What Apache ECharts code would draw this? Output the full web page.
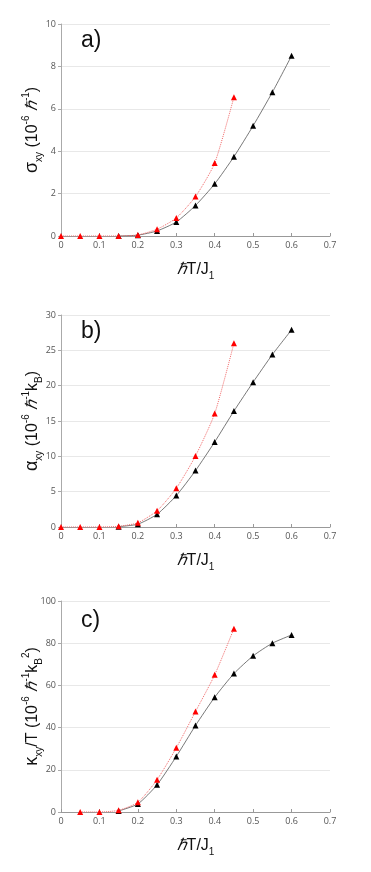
<!DOCTYPE html>
<html><head><meta charset="utf-8">
<script src="https://cdn.jsdelivr.net/npm/echarts@6/dist/echarts.min.js"></script>
<style>html,body{margin:0;padding:0;background:#fff;}#c{width:371px;height:872px;}</style>
</head><body><div id="c"></div>
<script>
const xTicks = [0, 0.1, 0.2, 0.3, 0.4, 0.5, 0.6, 0.7];
const tempsRed = [0, 0.05, 0.1, 0.15, 0.2, 0.25, 0.3, 0.35, 0.4, 0.45];
const tempsRedC = [0.05, 0.1, 0.15, 0.2, 0.25, 0.3, 0.35, 0.4, 0.45];
const tempsBlack = [0.15, 0.2, 0.25, 0.3, 0.35, 0.4, 0.45, 0.5, 0.55, 0.6];

const sigmaRed   = [0, 0, 0, 0, 0.05, 0.32, 0.85, 1.86, 3.44, 6.55];
const sigmaBlack = [0, 0.04, 0.24, 0.66, 1.44, 2.46, 3.74, 5.2, 6.78, 8.5];
const alphaRed   = [0, 0, 0, 0.1, 0.6, 2.3, 5.48, 10.06, 16.06, 26.0];
const alphaBlack = [0.05, 0.4, 1.8, 4.44, 7.98, 12.04, 16.4, 20.5, 24.4, 27.9];
const kappaRed   = [0, 0, 0.8, 4.6, 15.3, 30.4, 47.6, 65.0, 86.9];
const kappaBlack = [0.5, 3.8, 12.9, 26.3, 41.0, 54.4, 65.6, 74.0, 80.0, 83.9];

const yMax = [10, 30, 100];
const yStep = [2, 5, 20];
const panelLabels = ['a)', 'b)', 'c)'];

const pairs = (xs, ys) => xs.map((x, i) => [x, ys[i]]);

const tf = "'Liberation Sans', Arial, sans-serif";
const rich = {
  m: {fontSize: 16, fontFamily: tf, color: '#111', lineHeight: 22, verticalAlign: 'bottom'},
  g: {fontSize: 18, fontFamily: tf, color: '#111', lineHeight: 22, verticalAlign: 'bottom'},
  h: {fontSize: 16, fontFamily: tf, fontStyle: 'italic', color: '#111', lineHeight: 22, verticalAlign: 'bottom'},
  sub: {fontSize: 10, fontFamily: tf, color: '#111', lineHeight: 22, verticalAlign: 'bottom', padding: [0,0,-3,0]},
  sup: {fontSize: 10, fontFamily: tf, color: '#111', lineHeight: 22, verticalAlign: 'top', padding: [2,0,0,0]}
};
const yNames = [
  '{g|σ}{sub|xy}{m| (10}{sup|-6}{h| ℏ}{sup|-1}{m|)}',
  '{g|α}{sub|xy}{m| (10}{sup|-6}{h| ℏ}{sup|-1}{m|k}{sub|B}{m|)}',
  '{g|κ}{sub|xy}{m|/T (10}{sup|-6}{h| ℏ}{sup|-1}{m|k}{sub|B}{sup|2}{m|)}'
];
const xName = '{h|ℏ}{m|T/J}{sub|1}';

const tops = [24, 315, 601];
const heights = [212, 212, 211];

const grids = [], xAxes = [], yAxes = [], series = [], graphics = [];
for (let i = 0; i < 3; i++) {
  grids.push({left: 61, width: 269, top: tops[i], height: heights[i]});
  xAxes.push({
    type: 'value', gridIndex: i, min: 0, max: 0.7, interval: 0.1,
    name: xName, nameLocation: 'middle', nameGap: 20, nameMoveOverlap: false,
    nameTextStyle: {rich: rich},
    axisLine: {show: true, lineStyle: {color: '#999', width: 1}},
    axisTick: {show: true, inside: true, length: 3, lineStyle: {color: '#999'}},
    axisLabel: {fontSize: 9, color: '#555', fontFamily: "'Open Sans', sans-serif", margin: 5,
      formatter: v => (Math.round(v * 10) / 10).toString()},
    splitLine: {show: false}
  });
  yAxes.push({
    type: 'value', gridIndex: i, min: 0, max: yMax[i], interval: yStep[i],
    name: yNames[i], nameLocation: 'middle', nameGap: 20, nameRotate: 90, nameMoveOverlap: false,
    nameTextStyle: {rich: rich},
    axisLine: {show: true, lineStyle: {color: '#aaa', width: 1}},
    axisTick: {show: true, length: 3, lineStyle: {color: '#aaa'}},
    axisLabel: {fontSize: 9, color: '#555', fontFamily: "'Open Sans', sans-serif", margin: 5},
    splitLine: {show: true, lineStyle: {color: '#e8e8e8', width: 1}}
  });
  graphics.push({type: 'text', left: 81, top: tops[i] + (i === 2 ? 8 : 5),
    style: {text: panelLabels[i], fontSize: 23, fontFamily: tf, fill: '#111'}});
}

const blackData = [pairs(tempsBlack, sigmaBlack), pairs(tempsBlack, alphaBlack), pairs(tempsBlack, kappaBlack)];
const redData = [pairs(tempsRed, sigmaRed), pairs(tempsRed, alphaRed), pairs(tempsRedC, kappaRed)];

for (let i = 0; i < 3; i++) {
  series.push({
    type: 'line', xAxisIndex: i, yAxisIndex: i, data: blackData[i], smooth: 0.2,
    symbol: 'triangle', symbolSize: 6, z: 2,
    lineStyle: {color: '#555', width: 0.8},
    itemStyle: {color: '#000'}
  });
  series.push({
    type: 'line', xAxisIndex: i, yAxisIndex: i, data: redData[i], smooth: 0.2,
    symbol: 'triangle', symbolSize: 6, z: 3,
    lineStyle: {color: '#f06a6a', width: 1, type: 'dotted'},
    itemStyle: {color: '#ff0000'}
  });
}

const chart = echarts.init(document.getElementById('c'));
chart.setOption({
  animation: false,
  backgroundColor: '#fff',
  grid: grids, xAxis: xAxes, yAxis: yAxes, series: series, graphic: graphics
});
</script>
</body></html>
